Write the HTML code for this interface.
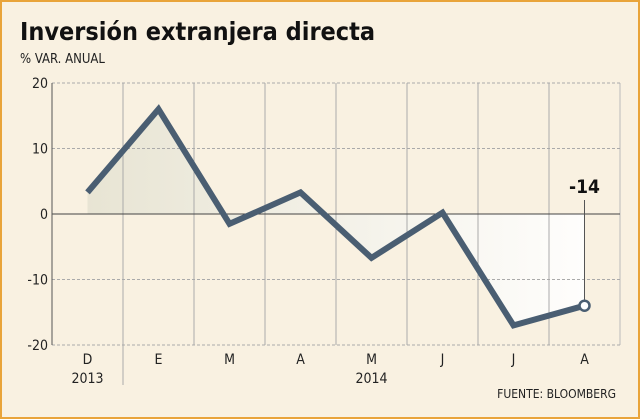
<!DOCTYPE html>
<html><head><meta charset="utf-8"><style>
body{margin:0;background:#fff}
#c{width:640px;height:419px;position:relative;background:#f9f1e1;box-sizing:border-box;border:2px solid #e9a43a;font-family:"DejaVu Sans Condensed","Liberation Sans",sans-serif;overflow:hidden}
</style></head><body>
<div id="c">
<svg id="s" width="640" height="419" style="position:absolute;left:-2px;top:-2px">
<text x="20" y="40" font-size="25" font-weight="bold" fill="#111" font-family="DejaVu Sans Condensed, Liberation Sans, sans-serif">Inversión extranjera directa</text>
<text x="20" y="63" font-size="13" fill="#222" font-family="DejaVu Sans Condensed, Liberation Sans, sans-serif">% VAR. ANUAL</text>
<text x="616" y="398" font-size="12" fill="#222" text-anchor="end" font-family="DejaVu Sans Condensed, Liberation Sans, sans-serif">FUENTE: BLOOMBERG</text>
<defs><linearGradient id="g" x1="0" y1="0" x2="1" y2="0"><stop offset="0" stop-color="#e6e3d2"/><stop offset="1" stop-color="#ffffff"/></linearGradient></defs>
<g id="plot"></g>
</svg>
</div>
<script>
const categories=["D","E","M","A","M","J","J","A"];
const values=[3.3,16,-1.5,3.3,-6.7,0.2,-17,-14];
const yTicks=[20,10,0,-10,-20];
const yearLabels=["2013","2014"];
const L=52,R=620,T=83,B=345,yMin=-20,yMax=20;
const step=(R-L)/categories.length;
const x=i=>L+step*(i+0.5);
const y=v=>T+(yMax-v)/(yMax-yMin)*(B-T);
const NS="http://www.w3.org/2000/svg";
const g=document.getElementById("plot");
function mk(t,a,txt){const e=document.createElementNS(NS,t);for(const k in a)e.setAttribute(k,a[k]);if(txt!=null)e.textContent=txt;g.appendChild(e);return e;}
// area
let d="M"+x(0)+","+y(0);
values.forEach((v,i)=>d+=" L"+x(i)+","+y(v));
d+=" L"+x(values.length-1)+","+y(0)+" Z";
let a=mk("path",{d:d,fill:"url(#g)",opacity:"0.9"});


// vertical grid
for(let i=1;i<categories.length;i++){
 let l=mk("line",{x1:L+step*i,x2:L+step*i,y1:T,y2:B,stroke:"#aaa","stroke-width":1});
 
 
}
let ys=mk("line",{x1:L+step,x2:L+step,y1:B,y2:385,stroke:"#aaa","stroke-width":1});


let rb=mk("line",{x1:R,x2:R,y1:T,y2:B,stroke:"#bbb","stroke-width":1});


yTicks.forEach(t=>{
 let l=mk("line",{x1:L,x2:R,y1:y(t),y2:y(t),stroke:t===0?"#444":"#aaa","stroke-width":1,"stroke-dasharray":t===0?"":"3,2"});
 
 
 let tx=mk("text",{x:L-4,y:y(t)+5,"font-size":14,"text-anchor":"end",fill:"#222"},String(t));
 
 
});
let la=mk("line",{x1:L,x2:L,y1:T,y2:B,stroke:"#555","stroke-width":1});


categories.forEach((c,i)=>{
 let tx=mk("text",{x:x(i),y:364,"font-size":14,"text-anchor":"middle",fill:"#222"},c);
 
 
});
let y1=mk("text",{x:x(0),y:383,"font-size":14,"text-anchor":"middle",fill:"#222"},yearLabels[0]);


let y2=mk("text",{x:(x(1)+x(7))/2,y:383,"font-size":14,"text-anchor":"middle",fill:"#222"},yearLabels[1]);


// callout
const li=values.length-1;
let cl=mk("line",{x1:x(li),x2:x(li),y1:200,y2:y(values[li]),stroke:"#555","stroke-width":1});


let ct=mk("text",{x:x(li),y:193,"font-size":19,"font-weight":"bold","text-anchor":"middle",fill:"#111"},String(values[li]));


let pts=values.map((v,i)=>x(i)+","+y(v)).join(" ");
let pl=mk("polyline",{points:pts,fill:"none",stroke:"#4a5e72","stroke-width":6,"stroke-linejoin":"miter"});


let dot=mk("circle",{cx:x(li),cy:y(values[li]),r:5,fill:"#fff",stroke:"#4a5e72","stroke-width":2.5});


</script>
</body></html>
